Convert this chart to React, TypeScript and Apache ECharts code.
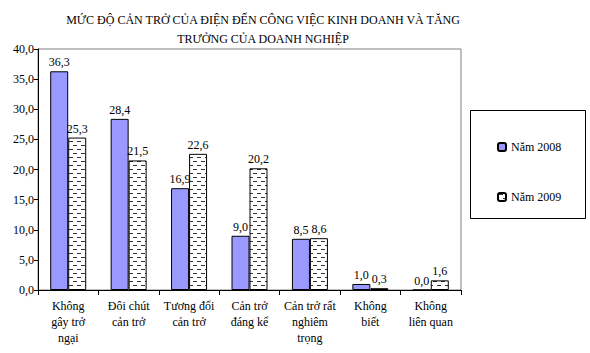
import React, { useEffect, useRef } from "react";
import * as echarts from "echarts";

const categories = [
  "Không\ngây trở\nngại",
  "Đôi chút\ncản trở",
  "Tương đối\ncản trở",
  "Cản trở\nđáng kể",
  "Cản trở rất\nnghiêm\ntrọng",
  "Không\nbiết",
  "Không\nliên quan",
];
const values2008 = [36.3, 28.4, 16.9, 9.0, 8.5, 1.0, 0.0];
const values2009 = [25.3, 21.5, 22.6, 20.2, 8.6, 0.3, 1.6];
const seriesNames = ["Năm 2008", "Năm 2009"];
const titleText = "MỨC ĐỘ CẢN TRỞ CỦA ĐIỆN ĐẾN CÔNG VIỆC KINH DOANH VÀ TĂNG\nTRƯỞNG CỦA DOANH NGHIỆP";

const FONT = "Liberation Serif";
const fmt = (v: number) => v.toFixed(1).replace(".", ",");

function makePattern(): string {
  const c = document.createElement("canvas");
  c.width = 8;
  c.height = 8;
  const ctx = c.getContext("2d")!;
  ctx.fillStyle = "#fff";
  ctx.fillRect(0, 0, 8, 8);
  ctx.fillStyle = "#333";
  ctx.fillRect(1, 1, 4, 1);
  ctx.fillRect(5, 5, 3, 1);
  ctx.fillRect(0, 5, 1, 1);
  return c.toDataURL();
}

export default function App() {
  const ref = useRef<HTMLDivElement>(null);
  useEffect(() => {
    if (!ref.current) return;
    const chart = echarts.init(ref.current, null, { renderer: "svg" });
    const pattern = { image: makePattern(), repeat: "repeat" };
    const labelCfg = {
      show: true,
      position: "top" as const,
      distance: 3,
      color: "#000",
      fontFamily: FONT,
      fontSize: 12,
      formatter: (p: any) => fmt(p.value),
    };
    chart.setOption({
      animation: false,
      backgroundColor: "#fff",
      textStyle: { fontFamily: FONT },
      title: {
        text: titleText,
        left: 258,
        textAlign: "center",
        top: 5,
        textStyle: {
          fontFamily: FONT,
          fontSize: 12,
          fontWeight: "normal",
          color: "#000",
          lineHeight: 19,
        },
      },
      graphic: [
        {
          type: "rect",
          shape: { x: 470.5, y: 110.5, width: 115, height: 108 },
          style: { fill: "#fff", stroke: "#000", lineWidth: 1 },
          z: 0,
        },
      ],
      legend: {
        orient: "vertical",
        left: 497,
        top: 141,
        itemGap: 38,
        itemWidth: 8,
        itemHeight: 8,
        padding: 0,
        textStyle: { fontFamily: FONT, fontSize: 12, color: "#000" },
        data: seriesNames,
        z: 5,
      },
      grid: {
        left: 38,
        top: 49,
        right: 129,
        bottom: 63,
        show: true,
        borderColor: "#808080",
        borderWidth: 1,
        containLabel: false,
      },
      xAxis: {
        type: "category",
        data: categories,
        axisLine: { lineStyle: { color: "#000" } },
        axisTick: { show: true, length: 5, lineStyle: { color: "#000" } },
        axisLabel: {
          color: "#000",
          fontFamily: FONT,
          fontSize: 12,
          lineHeight: 16,
          margin: 8,
          interval: 0,
        },
      },
      yAxis: {
        type: "value",
        min: 0,
        max: 40,
        interval: 5,
        axisLine: { show: true, lineStyle: { color: "#000" } },
        axisTick: { show: true, length: 4, lineStyle: { color: "#000" } },
        splitLine: { show: false },
        axisLabel: {
          color: "#000",
          fontFamily: FONT,
          fontSize: 12,
          margin: 4,
          formatter: (v: number) => fmt(v),
        },
      },
      series: [
        {
          name: seriesNames[0],
          type: "bar",
          data: values2008,
          barWidth: 18,
          barGap: "0%",
          itemStyle: { color: "#9999FF", borderColor: "#000", borderWidth: 1 },
          label: labelCfg,
        },
        {
          name: seriesNames[1],
          type: "bar",
          data: values2009,
          barWidth: 18,
          itemStyle: {
            color: pattern,
            borderColor: "#000",
            borderWidth: 1,
          },
          label: labelCfg,
        },
      ],
    });
    return () => chart.dispose();
  }, []);
  return (
    <div
      ref={ref}
      style={{ position: "fixed", left: 0, top: 0, width: 590, height: 353 }}
    />
  );
}
